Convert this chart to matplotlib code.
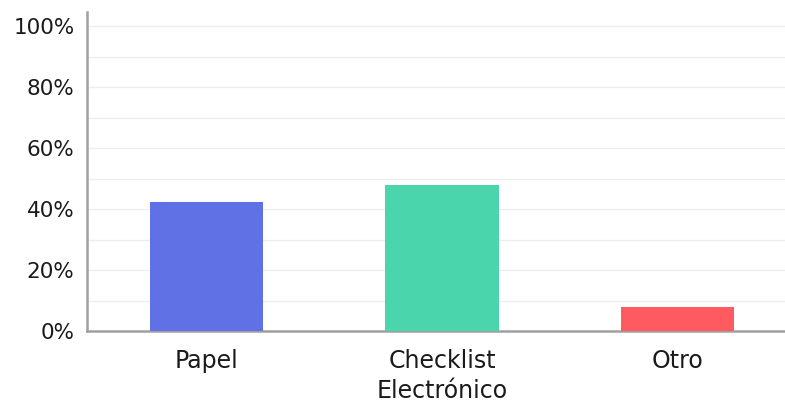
import matplotlib
matplotlib.use("Agg")
import matplotlib.pyplot as plt
from matplotlib.ticker import FuncFormatter, MultipleLocator

categories = ["Papel", "Checklist\nElectrónico", "Otro"]
values = [42.3, 47.9, 7.9]
colors = ["#6070E5", "#4BD5AC", "#FF5A5F"]

plt.rcParams["font.family"] = ["DejaVu Sans"]

fig = plt.figure(figsize=(7.85, 4.05), dpi=100)
ax = fig.add_axes([87 / 785, 74 / 405, 1 - 87 / 785, 319 / 405])

x = range(len(categories))
ax.bar(x, values, width=0.48, color=colors, zorder=3)

ax.set_xlim(-0.507, 2.456)
ax.set_ylim(0, 104.6)
ax.yaxis.set_major_locator(MultipleLocator(20))
ax.yaxis.set_minor_locator(MultipleLocator(10))
ax.yaxis.set_major_formatter(FuncFormatter(lambda v, _: f"{v:.0f}%"))
ax.grid(axis="y", which="both", color="#eeeeee", linewidth=1, zorder=0)

ax.set_xticks(list(x))
ax.set_xticklabels(categories, fontsize=17, color="#1a1a1a", linespacing=1.3)
ax.tick_params(axis="x", length=0, pad=13)
ax.tick_params(axis="y", which="both", length=0, pad=9, labelsize=15.5, labelcolor="#1a1a1a")

for side in ["top", "right"]:
    ax.spines[side].set_visible(False)
for side in ["left", "bottom"]:
    ax.spines[side].set_color("#a0a0a0")
    ax.spines[side].set_linewidth(1.8)

fig.savefig("out.png", dpi=100)
